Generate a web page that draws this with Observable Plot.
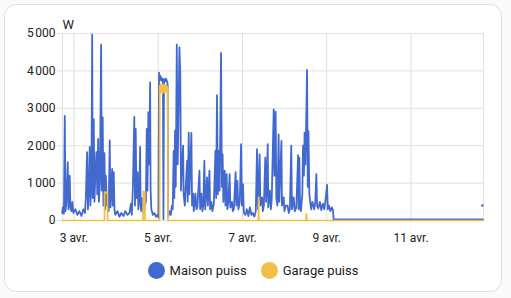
<!DOCTYPE html>
<html><head><meta charset="utf-8">
<script src="https://cdn.jsdelivr.net/npm/d3@7"></script>
<script src="https://cdn.jsdelivr.net/npm/@observablehq/plot@0.6"></script>
<style>
html,body{margin:0;padding:0;background:#fafafa;}
body{width:511px;height:298px;position:relative;overflow:hidden;font-family:Roboto,sans-serif;}
#card{position:absolute;left:4px;top:4px;width:496px;height:286px;border:1px solid #e0e0e0;border-radius:12px;background:#fff;}
#chart{position:absolute;left:0;top:0;}
#legend{position:absolute;left:4px;width:498px;top:262px;display:flex;justify-content:center;gap:14px;font-size:13px;color:#212121;}
.item{display:flex;align-items:center;gap:5px;line-height:17px;}
.sw{width:17px;height:17px;border-radius:50%;}
</style></head>
<body>
<div id="card"></div>
<div id="chart"></div>
<div id="legend"></div>
<script>
// Series names and colours
const seriesNames = ["Maison puiss", "Garage puiss"];
const seriesColors = ["#4269d0", "#f4bd4a"];
const yUnit = "W";

// Tick values and labels
const yTicks = [0, 1000, 2000, 3000, 4000, 5000];
const yTickLabels = ["0", "1\u202f000", "2\u202f000", "3\u202f000", "4\u202f000", "5\u202f000"];
const xTickDays = [3, 5, 7, 9, 11];
const xTickLabels = ["3 avr.", "5 avr.", "7 avr.", "9 avr.", "11 avr."];

// Time window, hours relative to 3 April 00:00
const windowHours = [-6.5, 233.3];

// Maison puiss: hours since 3 April 00:00, and watts
const maisonH = [-6.7,-6.3,-5.7,-5.2,-4.8,-4.3,-3.5,-3.1,-2.4,-2.0,-1.4,-0.9,-0.3,0.9,2.0,3.1,4.3,5.4,6.3,6.8,
7.5,8.0,8.5,9.0,9.4,10.0,10.4,10.7,11.3,11.7,12.2,12.8,13.3,13.8,14.2,14.8,15.5,15.9,16.4,16.8,
17.4,17.8,18.2,18.8,19.4,19.8,20.4,20.8,21.2,21.8,22.1,22.7,23.1,23.6,24.8,25.9,27.0,28.2,29.3,30.5,
31.6,32.5,33.0,33.6,34.4,34.8,35.2,35.6,36.3,36.7,37.3,37.7,38.0,38.4,39.0,39.6,40.1,41.0,41.5,41.9,
42.4,42.9,43.4,43.7,44.1,45.0,45.8,46.7,47.5,48.1,48.5,48.8,49.0,49.3,49.5,49.8,50.1,50.4,50.7,51.0,
51.3,51.6,52.1,52.5,53.0,53.4,53.7,54.4,55.2,55.8,56.3,56.8,57.2,57.6,58.0,58.6,59.1,59.5,60.1,60.6,
61.0,61.5,62.2,62.5,63.2,63.7,64.5,64.8,65.4,65.8,66.9,67.3,67.9,68.3,69.2,69.8,70.3,71.5,71.9,72.6,
73.2,73.7,74.3,74.8,75.8,76.3,77.2,77.6,78.3,78.9,79.7,80.6,81.0,81.5,82.0,82.5,83.0,83.8,84.3,84.7,
85.1,85.9,86.3,87.0,87.4,88.0,88.7,89.1,90.0,90.5,91.1,92.1,92.5,93.1,93.7,94.5,95.2,95.7,96.3,96.8,
97.7,98.5,99.4,100.2,101.1,101.9,102.8,103.6,104.3,104.8,105.8,106.2,107.2,107.6,108.2,109.0,109.5,110.4,110.7,111.6,
112.2,112.7,113.8,114.2,114.9,115.3,115.9,116.6,117.0,118.2,118.5,119.5,119.9,120.7,121.7,122.4,123.0,123.8,124.2,125.2,
125.8,126.7,127.7,128.0,128.4,128.8,129.3,130.1,130.5,131.0,131.4,131.9,132.8,133.2,133.6,134.1,134.7,135.2,135.8,136.4,
136.9,137.5,138.1,138.5,139.2,140.1,140.9,141.8,142.6,143.2,144.2,144.6,145.2,146.1,146.9,147.6,147.9,232.9];
const maisonW = [200,350,180,2800,250,450,1560,300,1200,350,250,500,200,300,150,250,120,300,200,600,
1830,300,900,1970,400,1200,4970,600,2710,500,1200,1830,700,2180,500,1000,4700,800,2760,400,
1800,300,1200,400,600,250,2140,350,800,1380,400,1290,300,150,250,100,200,120,250,150,
200,450,150,900,2770,400,2450,600,1290,300,800,1970,400,250,600,200,350,500,2450,800,
2900,1500,3690,800,300,150,200,100,150,80,3950,3820,3880,3760,3840,3740,3800,3720,3780,40,
3700,3780,3720,3790,3720,3650,100,250,150,400,300,1860,600,2400,900,4700,1500,2500,4630,3900,
800,1400,2000,700,400,900,1600,500,2350,700,2340,400,720,250,720,300,350,1330,300,720,
250,400,1600,300,1150,400,1330,300,500,250,450,1860,600,3350,700,1860,800,4480,900,1770,
500,1330,400,1240,300,500,1240,350,500,250,300,1290,400,1060,300,500,2040,400,970,200,
150,300,120,350,150,200,100,250,1910,300,1770,400,620,250,400,1680,500,2040,350,800,
300,600,2970,1200,2910,600,400,2300,500,2130,400,620,250,400,400,200,300,2000,300,620,
250,350,1750,300,1680,400,250,700,2000,1200,2350,1500,4030,900,2390,700,450,300,500,400,
300,500,1240,400,320,500,280,450,300,500,950,300,400,250,350,280,30,30];
// last isolated Maison reading
const maisonLastH = [232.6];
const maisonLastW = [400];

// Garage puiss
const garageH = [-6.5,17.4,17.5,18.3,19.1,19.2,39.4,39.5,40.4,40.5,48.8,48.9,49.2,49.5,49.8,50.1,50.4,50.7,51.0,51.3,
51.6,51.9,52.2,52.5,52.8,53.1,53.4,53.5,53.6,105.1,105.2,105.4,132.2,132.4,132.7,233.3];
const garageW = [0,0,760,740,770,0,0,780,770,0,0,3600,3420,3650,3430,3620,3400,3640,3450,3600,
3420,3630,3440,3610,3450,3580,3470,3550,0,0,620,0,0,180,0,0];

const base = Date.UTC(2024, 3, 3);
const toDate = h => new Date(base + h * 3600e3);
const maison = maisonH.map((h, i) => ({t: toDate(h), v: maisonW[i]}));
const garage = garageH.map((h, i) => ({t: toDate(h), v: garageW[i]}));
const maisonLast = maisonLastH.map((h, i) => ({t: toDate(h), v: maisonLastW[i]}));
const xTicks = xTickDays.map(d => new Date(Date.UTC(2024, 3, d)));
const xLab = new Map(xTicks.map((d, i) => [+d, xTickLabels[i]]));
const yLab = new Map(yTicks.map((d, i) => [d, yTickLabels[i]]));

const chart = Plot.plot({
  width: 511, height: 255,
  marginLeft: 62, marginRight: 28, marginTop: 33, marginBottom: 35,
  style: {color: "#212121", fontFamily: "Roboto, sans-serif", fontSize: "12px", background: "transparent", overflow: "visible"},
  x: {type: "utc", domain: windowHours.map(toDate)},
  y: {domain: [0, 5000]},
  marks: [
    Plot.gridY(yTicks, {stroke: "#e0e0e0", strokeOpacity: 1, insetLeft: -5}),
    Plot.gridX(xTicks, {stroke: "#e0e0e0", strokeOpacity: 1}),
    Plot.frame({stroke: "#e0e0e0"}),
    Plot.axisY(yTicks, {tickFormat: d => yLab.get(d), tickSize: 0, tickPadding: 7, label: null}),
    Plot.axisX(xTicks, {tickFormat: d => xLab.get(+d), tickSize: 0, tickPadding: 13, label: null}),
    Plot.line(maison, {x: "t", y: "v", stroke: seriesColors[0], strokeWidth: 1.8}),
    Plot.line(garage, {x: "t", y: "v", stroke: seriesColors[1], strokeWidth: 1.7}),
    Plot.dot(maisonLast, {x: "t", y: "v", r: 1.2, fill: seriesColors[0]}),
    Plot.text([yUnit], {frameAnchor: "top-left", textAnchor: "start", dy: -14, fontSize: 13})
  ]
});
document.getElementById("chart").appendChild(chart);

const legend = document.getElementById("legend");
seriesNames.forEach((n, i) => {
  const it = document.createElement("div");
  it.className = "item";
  const sw = document.createElement("div");
  sw.className = "sw";
  sw.style.background = seriesColors[i];
  const tx = document.createElement("span");
  tx.textContent = n;
  it.appendChild(sw); it.appendChild(tx);
  legend.appendChild(it);
});
</script>
</body></html>
